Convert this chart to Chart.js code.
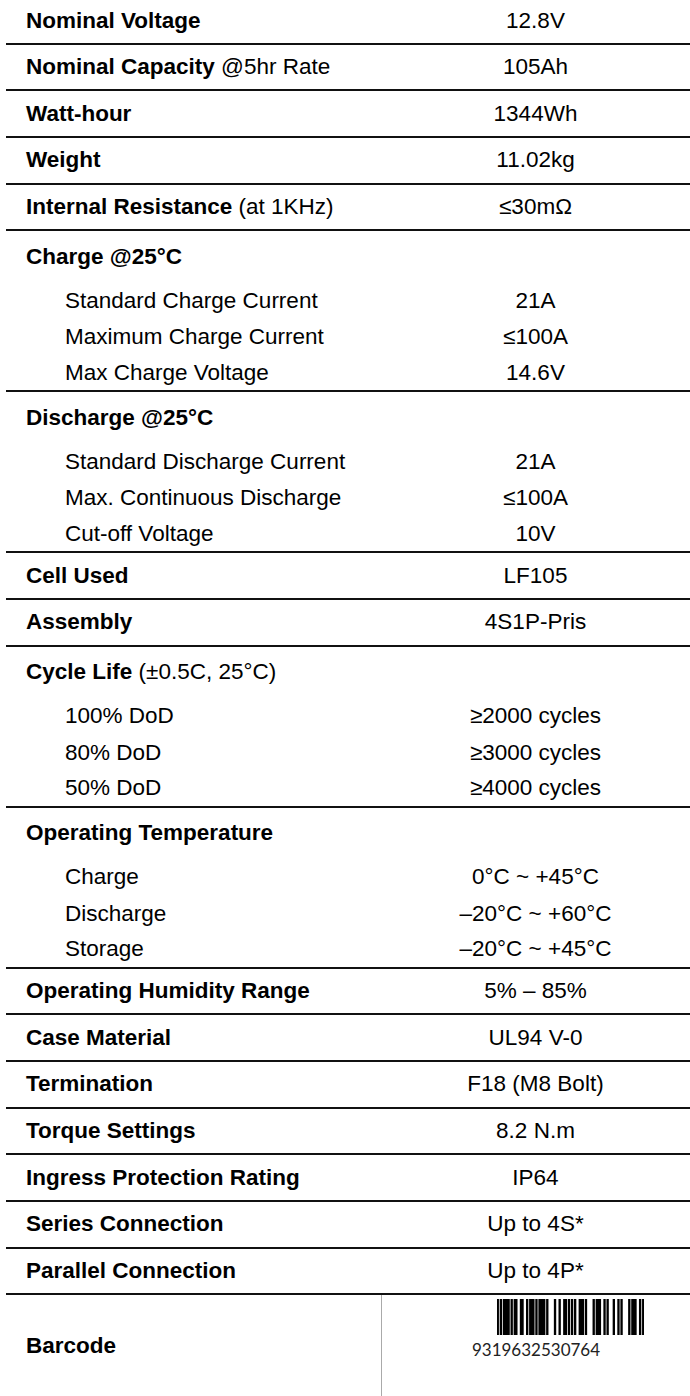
<!DOCTYPE html>
<html>
<head>
<meta charset="utf-8">
<script src="https://cdn.jsdelivr.net/npm/chart.js@4.4.0/dist/chart.umd.min.js"></script>
<style>
body{margin:0;background:#fff;width:690px;height:1396px;overflow:hidden;font-family:"Liberation Sans",Arial,sans-serif;font-size:22.5px;color:#000}
#sheet{position:absolute;left:6px;top:0;width:684px}
.row{display:flex;align-items:center;box-sizing:border-box;height:46.7px}
.row.first{height:44.5px}
.row.head{height:51px}
.row.sub{height:36.67px}
.row.line{border-bottom:2px solid #111}
.lbl{width:375px;padding-left:20px;box-sizing:border-box;white-space:nowrap}
.sub .lbl{padding-left:59px}
.lbl b{font-weight:700}
.val{width:309px;text-align:center;white-space:nowrap}
.barrow{height:100.4px;display:flex}
.barrow .lbl{display:flex;align-items:center}
.barcell{position:relative;width:309px;border-left:1.5px solid #aaa;box-sizing:border-box}
#barcode{position:absolute;left:115px;top:4px}
.digits{position:absolute;left:0;right:0;top:44px;text-align:center;font-family:Lato,"DejaVu Sans",sans-serif;font-size:17px;color:#222}
</style>
</head>
<body>
<div id="sheet"></div>
<script>
// rows of the spec sheet
const rowLabels = ["Nominal Voltage", "Nominal Capacity", "Watt-hour", "Weight", "Internal Resistance",
  "Charge @25°C", "Standard Charge Current", "Maximum Charge Current", "Max Charge Voltage",
  "Discharge @25°C", "Standard Discharge Current", "Max. Continuous Discharge", "Cut-off Voltage",
  "Cell Used", "Assembly",
  "Cycle Life", "100% DoD", "80% DoD", "50% DoD",
  "Operating Temperature", "Charge", "Discharge", "Storage",
  "Operating Humidity Range", "Case Material", "Termination", "Torque Settings",
  "Ingress Protection Rating", "Series Connection", "Parallel Connection"];
const rowNotes = ["", " @5hr Rate", "", "", " (at 1KHz)",
  "", "", "", "",
  "", "", "", "",
  "", "",
  " (±0.5C, 25°C)", "", "", "",
  "", "", "", "",
  "", "", "", "", "", "", ""];
const rowValues = ["12.8V", "105Ah", "1344Wh", "11.02kg", "≤30mΩ",
  "", "21A", "≤100A", "14.6V",
  "", "21A", "≤100A", "10V",
  "LF105", "4S1P-Pris",
  "", "≥2000 cycles", "≥3000 cycles", "≥4000 cycles",
  "", "0°C ~ +45°C", "–20°C ~ +60°C", "–20°C ~ +45°C",
  "5% – 85%", "UL94 V-0", "F18 (M8 Bolt)", "8.2 N.m", "IP64", "Up to 4S*", "Up to 4P*"];
// row = single line row, head = group title, sub = indented item, end = last item of a group
const rowKinds = ["row", "row", "row", "row", "row",
  "head", "sub", "sub", "end",
  "head", "sub", "sub", "end",
  "row", "row",
  "head", "sub", "sub", "end",
  "head", "sub", "sub", "end",
  "row", "row", "row", "row", "row", "row", "row"];

// EAN-13 barcode
const barcodeDigits = "9319632530764";
const barcodeModules = ["101", "0111101", "0110011", "0010111", "0101111", "0100001", "0010011",
  "01010", "1001110", "1000010", "1110010", "1000100", "1010000", "1011100", "101"];

const sheet = document.getElementById('sheet');

rowLabels.forEach(function(label, i) {
  const kind = rowKinds[i];
  const row = document.createElement('div');
  row.className = 'row';
  if (i == 0) row.className += ' first';
  if (kind == 'head') row.className += ' head';
  if (kind == 'sub' || kind == 'end') row.className += ' sub';
  if (kind == 'row' || kind == 'end') row.className += ' line';

  const lbl = document.createElement('div');
  lbl.className = 'lbl';
  if (kind == 'sub' || kind == 'end') {
    lbl.textContent = label;
  } else {
    const b = document.createElement('b');
    b.textContent = label;
    lbl.appendChild(b);
    if (rowNotes[i]) lbl.appendChild(document.createTextNode(rowNotes[i]));
  }
  const val = document.createElement('div');
  val.className = 'val';
  val.textContent = rowValues[i];
  row.appendChild(lbl);
  row.appendChild(val);
  sheet.appendChild(row);
});

// barcode row
const barRow = document.createElement('div');
barRow.className = 'barrow';
barRow.innerHTML = '<div class="lbl"><b>Barcode</b></div>' +
  '<div class="barcell"><canvas id="barcode" width="147" height="36"></canvas>' +
  '<div class="digits"></div></div>';
sheet.appendChild(barRow);
barRow.querySelector('.digits').textContent = barcodeDigits;

const modules = barcodeModules.join('').split('');

new Chart(document.getElementById('barcode'), {
  type: 'bar',
  data: {
    labels: modules.map(function(m, i) { return i; }),
    datasets: [{
      data: modules.map(function(m) { return m == '1' ? 1 : null; }),
      backgroundColor: '#000',
      borderWidth: 0,
      barPercentage: 1,
      categoryPercentage: 1,
      inflateAmount: 0.4
    }]
  },
  options: {
    responsive: false,
    animation: false,
    events: [],
    layout: { padding: 0 },
    plugins: { legend: { display: false }, tooltip: { enabled: false } },
    scales: {
      x: { display: false },
      y: { display: false, min: 0, max: 1 }
    }
  }
});
</script>
</body>
</html>
